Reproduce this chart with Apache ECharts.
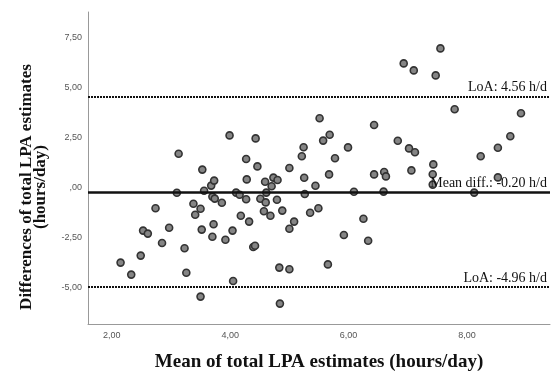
<!DOCTYPE html>
<html>
<head>
<meta charset="utf-8">
<script src="https://cdn.jsdelivr.net/npm/echarts@6/dist/echarts.min.js"></script>
<style>
  html, body { margin: 0; padding: 0; background: #fff; }
  #chart { width: 554px; height: 371px; }
</style>
</head>
<body>
<div id="chart"></div>
<script>
// mean of the two LPA estimates (hours/day)
var meanVals = [
  2.15, 2.33, 2.49, 2.53, 2.61, 2.74, 2.85, 2.97, 3.10, 3.13,
  3.23, 3.26, 3.38, 3.41, 3.50, 3.52, 3.50, 3.53, 3.56, 3.68,
  3.73, 3.70, 3.74, 3.72, 3.70, 3.86, 3.92, 3.99, 4.04, 4.05,
  4.10, 4.16, 4.18, 4.27, 4.27, 4.28, 4.32, 4.39, 4.42, 4.43,
  4.46, 4.51, 4.57, 4.59, 4.60, 4.61, 4.68, 4.70, 4.73, 4.80,
  4.79, 4.83, 4.84, 4.88, 5.00, 5.00, 5.00, 5.08, 5.21, 5.24,
  5.25, 5.26, 5.35, 5.44, 5.49, 5.51, 5.57, 5.68, 5.67, 5.65,
  5.77, 5.92, 5.99, 6.09, 6.25, 6.33, 6.43, 6.43, 6.60, 6.63,
  6.59, 6.83, 6.93, 7.02, 7.12, 7.06, 7.10, 7.43, 7.42, 7.42,
  7.47, 7.55, 7.79, 8.12, 8.23, 8.52, 8.52, 8.73, 8.91
]
// difference of the two LPA estimates (hours/day)
var diffVals = [
  -3.73, -4.33, -3.38, -2.13, -2.28, -1.01, -2.75, -1.99, -0.24, 1.71,
  -3.01, -4.24, -0.79, -1.34, -1.04, -2.08, -5.43, 0.92, -0.14, 0.12,
  0.37, -0.43, -0.53, -1.81, -2.44, -0.74, -2.59, 2.63, -2.13, -4.65,
  -0.23, -0.34, -1.39, -0.56, 1.45, 0.43, -1.68, -2.95, -2.89, 2.48,
  1.08, -0.54, -1.16, 0.31, -0.72, -0.23, -1.39, 0.09, 0.52, 0.40,
  -0.59, -3.98, -5.78, -1.13, -2.04, -4.06, 1.00, -1.68, 1.59, 2.04,
  0.51, -0.30, -1.24, 0.11, -1.01, 3.49, 2.37, 2.66, 0.68, -3.82,
  1.49, -2.35, 2.03, -0.19, -1.54, -2.64, 3.15, 0.68, 0.80, 0.58,
  -0.18, 2.36, 6.23, 1.98, 1.79, 0.88, 5.88, 1.18, 0.69, 0.17,
  5.63, 6.98, 3.94, -0.23, 1.59, 2.01, 0.53, 2.59, 3.74
]
var xTicks = [2, 4, 6, 8]
var yTicks = [-5, -2.5, 0, 2.5, 5, 7.5]
var loaUpper = 4.56
var meanDiff = -0.20
var loaLower = -4.96

var points = meanVals.map(function(m, i) { return [m, diffVals[i]] })

function spssNum(v) {
  if (v === 0) return ',00'
  return v.toFixed(2).replace('.', ',')
}

var serif = '"Liberation Serif", "DejaVu Serif", serif'
var chart = echarts.init(document.getElementById('chart'))
chart.setOption({
  animation: false,
  grid: { left: 88, right: 4, top: 12, bottom: 47, outerBoundsMode: 'none', containLabel: false },
  xAxis: {
    type: 'value',
    min: 1.6,
    max: 9.4,
    name: 'Mean of total LPA estimates (hours/day)',
    nameLocation: 'middle',
    nameGap: 29,
    nameTextStyle: { fontFamily: serif, fontWeight: 'bold', fontSize: 19, color: '#111' },
    axisLine: { onZero: false, lineStyle: { color: '#999', width: 1 } },
    axisTick: { show: false },
    splitLine: { show: false },
    axisLabel: {
      customValues: xTicks,
      formatter: spssNum,
      fontFamily: 'Arial, "Liberation Sans", sans-serif',
      fontSize: 9,
      color: '#555',
      margin: 7
    }
  },
  yAxis: {
    type: 'value',
    min: -6.8,
    max: 8.8,
    axisLine: { show: true, onZero: false, lineStyle: { color: '#999', width: 1 } },
    axisTick: { show: false },
    splitLine: { show: false },
    axisLabel: {
      customValues: yTicks,
      formatter: spssNum,
      fontFamily: 'Arial, "Liberation Sans", sans-serif',
      fontSize: 9,
      color: '#555',
      margin: 6
    }
  },
  graphic: [{
    type: 'text',
    x: 34,
    y: 187,
    rotation: Math.PI / 2,
    style: {
      text: 'Differences of total LPA estimates\n(hours/day)',
      font: 'bold 17px ' + serif,
      fill: '#111',
      align: 'center',
      verticalAlign: 'middle',
      lineHeight: 14
    }
  }],
  series: [{
    type: 'scatter',
    data: points,
    symbol: 'circle',
    symbolSize: 7,
    itemStyle: { color: '#858585', borderColor: '#333', borderWidth: 1.6, opacity: 1 },
    markLine: {
      silent: true,
      symbol: 'none',
      data: [
        {
          yAxis: loaUpper,
          lineStyle: { color: '#111', width: 2, type: [2, 1] },
          label: { formatter: 'LoA: 4.56 h/d' }
        },
        {
          yAxis: meanDiff,
          lineStyle: { color: '#111', width: 2.5, type: 'solid' },
          label: { formatter: 'Mean diff.: -0.20 h/d' }
        },
        {
          yAxis: loaLower,
          lineStyle: { color: '#111', width: 2, type: [2, 1] },
          label: { formatter: 'LoA: -4.96 h/d' }
        }
      ],
      label: {
        show: true,
        position: 'insideEndTop',
        distance: [3, 2],
        fontFamily: serif,
        fontSize: 14,
        color: '#111'
      }
    }
  }]
})
</script>
</body>
</html>
